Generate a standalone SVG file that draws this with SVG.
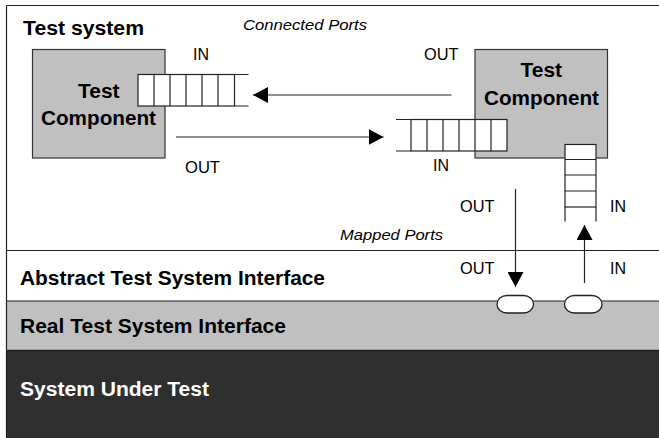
<svg xmlns="http://www.w3.org/2000/svg" width="659" height="438" viewBox="0 0 659 438">
<style>
.b{font-family:"Liberation Sans",Arial,sans-serif;font-weight:bold;font-size:20px;fill:#000}
.r{font-family:"Liberation Sans",Arial,sans-serif;font-size:16px;fill:#000}
.i{font-family:"Liberation Sans",Arial,sans-serif;font-size:15.5px;font-style:italic;fill:#000}
.ln{stroke:#222;stroke-width:1.2;fill:none}
.box{fill:#c0c0c0;stroke:#333;stroke-width:1.2}
.q{fill:#fff;stroke:#222;stroke-width:1.2}
.port{fill:#fff;stroke:#222;stroke-width:1.3}
</style>
<defs>
<marker id="ah" markerWidth="15" markerHeight="16" refX="15" refY="8" orient="auto" markerUnits="userSpaceOnUse">
<path d="M0,0 L15,8 L0,16 Z" fill="#000"/>
</marker>
</defs>
<rect x="0" y="0" width="659" height="438" fill="#fff"/>
<g id="layers">
<rect x="6.5" y="301" width="653" height="49" fill="#c0c0c0"/>
<rect x="6.5" y="350" width="653" height="88" fill="#2f2f2f"/>
<line x1="6.5" y1="350.5" x2="659" y2="350.5" stroke="#1e1e1e" stroke-width="1.5"/>
<line x1="6.5" y1="5.5" x2="659" y2="5.5" class="ln"/>
<line x1="6.5" y1="5.5" x2="6.5" y2="438" class="ln"/>
<line x1="6.5" y1="250.5" x2="659" y2="250.5" class="ln"/>
<line x1="6.5" y1="301" x2="659" y2="301" class="ln"/>
<text x="23" y="35" class="b" textLength="121" lengthAdjust="spacingAndGlyphs">Test system</text>
<text x="20" y="284.5" class="b" textLength="305" lengthAdjust="spacingAndGlyphs">Abstract Test System Interface</text>
<text x="20" y="332.5" class="b" textLength="266" lengthAdjust="spacingAndGlyphs">Real Test System Interface</text>
<text x="20" y="396" class="b" style="fill:#fff" textLength="189" lengthAdjust="spacingAndGlyphs">System Under Test</text>
<text x="243" y="29.5" class="i" textLength="124" lengthAdjust="spacingAndGlyphs">Connected Ports</text>
<text x="340" y="239.5" class="i" textLength="103" lengthAdjust="spacingAndGlyphs">Mapped Ports</text>
</g>
<g id="tc1">
<rect x="32.5" y="49.5" width="132.5" height="108.5" class="box"/>
<text x="78" y="97.5" class="b" textLength="41.5" lengthAdjust="spacingAndGlyphs">Test</text>
<text x="41" y="125" class="b" textLength="115" lengthAdjust="spacingAndGlyphs">Component</text>
</g>
<g id="tc2">
<rect x="475" y="49.5" width="132.5" height="108.5" class="box"/>
<text x="520.5" y="76.5" class="b" textLength="41.5" lengthAdjust="spacingAndGlyphs">Test</text>
<text x="484" y="104.5" class="b" textLength="115" lengthAdjust="spacingAndGlyphs">Component</text>
</g>
<g id="q1">
<rect x="138" y="74.5" width="96.5" height="31.5" class="q"/>
<path d="M154,74.5V106M170,74.5V106M186,74.5V106M202,74.5V106M218,74.5V106M234.5,74.5H248.5M234.5,106H248.5" class="ln"/>
<text x="193" y="60" class="r">IN</text>
</g>
<g id="q2">
<rect x="411" y="119.5" width="96" height="31.5" class="q"/>
<path d="M427,119.5V151M443,119.5V151M459,119.5V151M475,119.5V151M491,119.5V151M396,119.5H411M396,151H411" class="ln"/>
<text x="433" y="171" class="r">IN</text>
</g>
<g id="q3">
<rect x="565" y="144.5" width="31" height="62.5" class="q"/>
<path d="M565,159.5H596M565,175H596M565,191H596M565,207V221.5M596,207V221.5" class="ln"/>
<text x="610" y="212" class="r">IN</text>
</g>
<g id="p1">
<rect x="497" y="295.5" width="36.5" height="17.5" rx="10" ry="8.5" class="port"/>
</g>
<g id="p2">
<rect x="564.5" y="295.5" width="37.5" height="17.5" rx="10" ry="8.5" class="port"/>
</g>
<g id="connectors">
<line x1="451.5" y1="95" x2="253" y2="95" class="ln" marker-end="url(#ah)"/>
<line x1="176" y1="137" x2="383.5" y2="137" class="ln" marker-end="url(#ah)"/>
<line x1="515.5" y1="189" x2="515.5" y2="287" class="ln" marker-end="url(#ah)"/>
<line x1="584.5" y1="283" x2="584.5" y2="225" class="ln" marker-end="url(#ah)"/>
<text x="185" y="172.5" class="r" textLength="35" lengthAdjust="spacingAndGlyphs">OUT</text>
<text x="424" y="60" class="r" textLength="34.5" lengthAdjust="spacingAndGlyphs">OUT</text>
<text x="460" y="212" class="r" textLength="34.5" lengthAdjust="spacingAndGlyphs">OUT</text>
<text x="460" y="273.5" class="r" textLength="34.5" lengthAdjust="spacingAndGlyphs">OUT</text>
<text x="610" y="273.5" class="r">IN</text>
</g>
</svg>
